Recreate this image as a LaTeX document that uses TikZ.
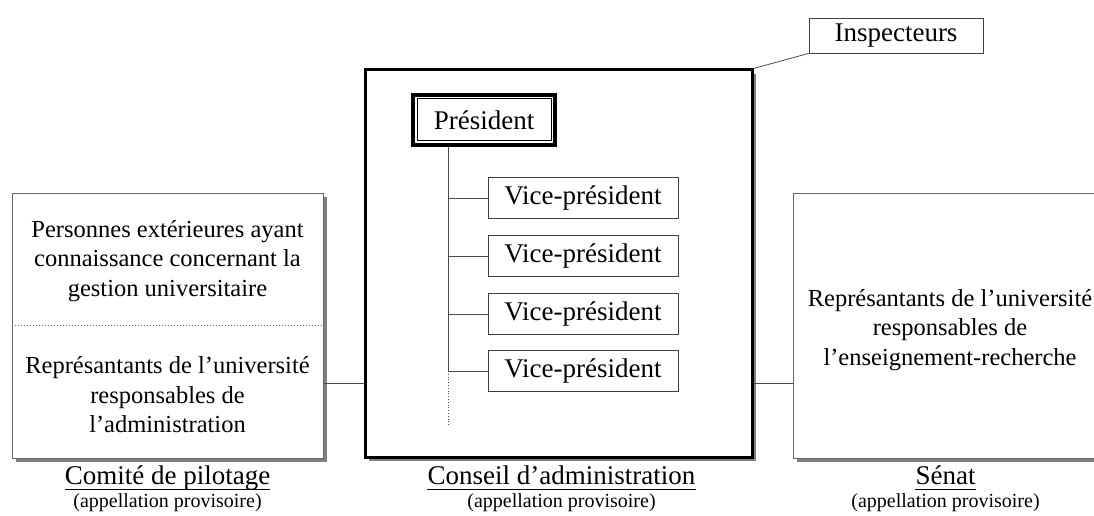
\documentclass[tikz,border=0pt]{standalone}
\usepackage{fontspec}
\setmainfont{Liberation Serif}
\usetikzlibrary{shadows,positioning}

\begin{document}
\begin{tikzpicture}[x=1pt,y=1pt,
    cadre/.style={draw=black!60,line width=1pt,fill=white,minimum width=311pt,minimum height=265pt,inner sep=0pt,
      drop shadow={shadow xshift=4pt,shadow yshift=-4pt,fill=black!50,opacity=1}},
    boite/.style={draw=black!75,line width=0.8pt,fill=white,inner sep=0pt,font=\fontsize{27}{30}\selectfont},
    texte/.style={align=center,font=\fontsize{24.5}{29.5}\selectfont},
    titre/.style={anchor=base,inner sep=0pt,font=\fontsize{27}{30}\selectfont},
    sous/.style={anchor=base,font=\fontsize{20}{24}\selectfont},
    lien/.style={draw=black!70,line width=0.8pt}]
  \path[use as bounding box,clip] (0,0) rectangle (1094,515);

  \node[cadre] (comite) at (167.5,189.5) {};
  \node[cadre] (senat) at (948.5,189.5) {};
  \node[cadre,draw=black,line width=3pt,minimum width=387pt,minimum height=387pt] (conseil) at (558.5,251.5) {};

  \draw[black!60,dotted,line width=1pt] (comite.west) -- (comite.east);
  \node[texte] (ext) at (167.5,254) {Personnes extérieures ayant\\connaissance concernant la\\gestion universitaire};
  \node[texte] (adm) at (167.5,120) {Représantants de l’université\\responsables de\\l’administration};
  \node[texte] (ens) at (950,185) {Représantants de l’université\\responsables de\\l’enseignement-recherche};

  % president et vice-presidents
  \node[boite,draw=black,line width=4pt,minimum width=142pt,minimum height=50pt] (pres) at (484,395) {Président};
  \draw[line width=1pt] ([shift={(6,-6)}]pres.north west) rectangle ([shift={(-6,6)}]pres.south east);
  \coordinate (tronc) at ([xshift=-36pt]pres.south);
  \foreach \i/\y in {1/317,2/259,3/201,4/144} {
    \node[boite,minimum width=190pt,minimum height=41pt] (vp\i) at (583,\y) {Vice-président};
    \draw[lien] (vp\i.west) -- (vp\i.west -| tronc);
  }
  \draw[lien] (tronc) -- (tronc |- vp4.west);
  \draw[lien,dotted] (tronc |- vp4.west) -- ++(0,-54);

  \node[boite,minimum width=174pt,minimum height=35pt] (insp) at (896,479.5) {Inspecteurs};
  \draw[lien] (insp.south west) -- (conseil.north east);

  \coordinate (niv) at (0,132);
  \draw[lien] (comite.east |- niv) -- (conseil.west |- niv);
  \draw[lien] (conseil.east |- niv) -- (senat.west |- niv);

  % titres
  \coordinate (bas) at (0,31);
  \node[titre] (t1) at (comite.south |- bas) {Comité de pilotage};
  \node[titre] (t2) at ([xshift=3pt]conseil.south |- bas) {Conseil d’administration};
  \node[titre] (t3) at ([xshift=-3pt]senat.south |- bas) {Sénat};
  \foreach \t in {t1,t2,t3} {
    \draw[line width=1pt] ([yshift=-5.5pt]\t.base west) -- ([yshift=-5.5pt]\t.base east);
    \node[sous] at ([yshift=-23pt]\t.base) {(appellation provisoire)};
  }
\end{tikzpicture}
\end{document}
